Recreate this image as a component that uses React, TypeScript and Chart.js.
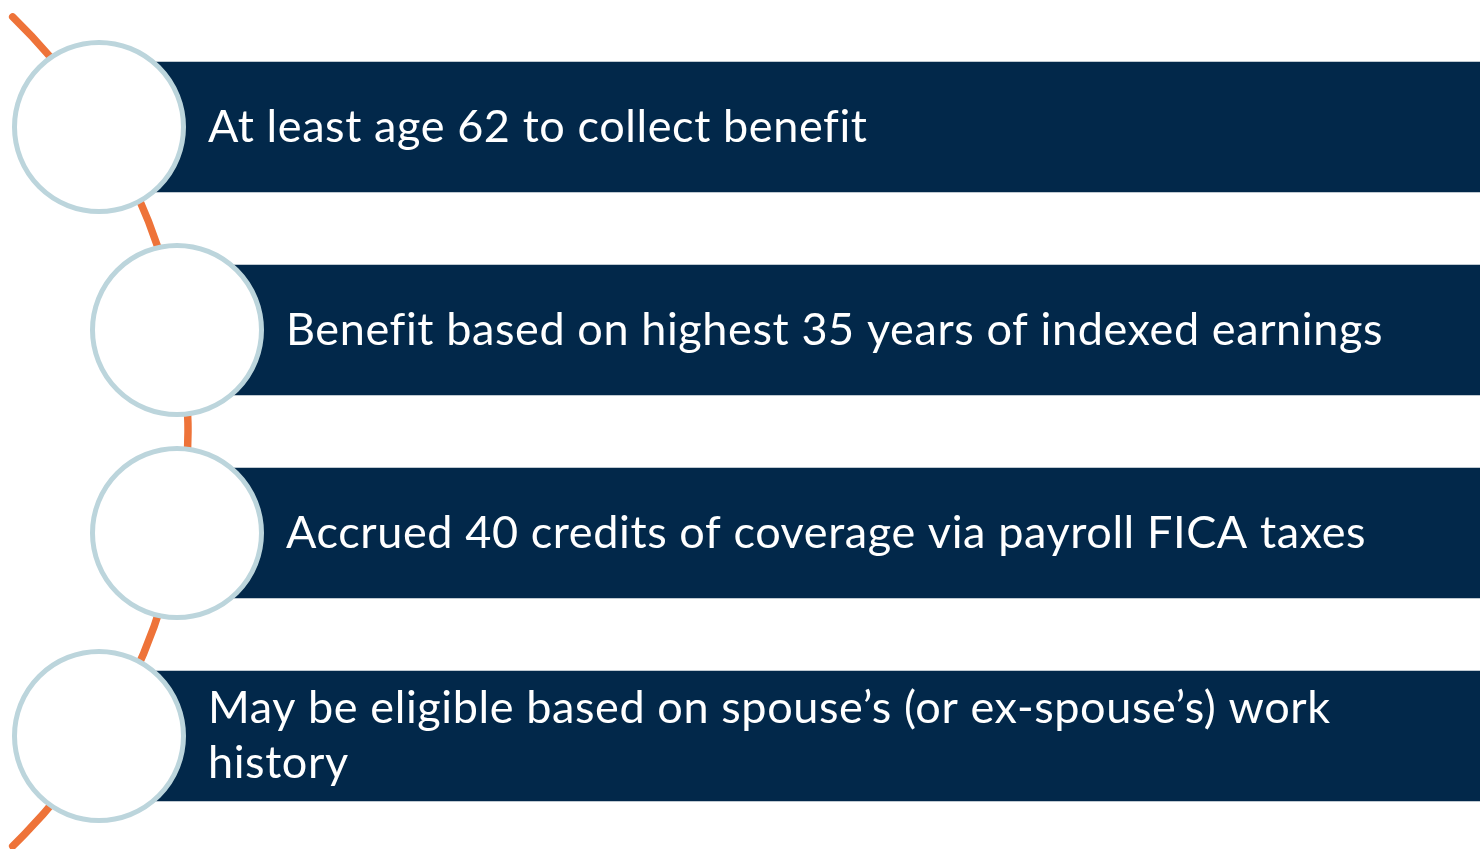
import React, { useEffect, useRef } from "react";
import { Chart, registerables } from "chart.js";

Chart.register(...registerables);

// Diagram data (chart coordinates: x 0..1480, y 0..849 top-down)
const itemLines: string[][] = [
  ["At least age 62 to collect benefit"],
  ["Benefit based on highest 35 years of indexed earnings"],
  ["Accrued 40 credits of coverage via payroll FICA taxes"],
  ["May be eligible based on spouse\u2019s (or ex-spouse\u2019s) work", "history"],
];
const rowY = [127, 330, 533, 736];
const barStart = [155, 233, 233, 155];
const barEnd = [1480, 1480, 1480, 1480];
const circleX = [99, 177, 177, 99];
const arcCenter = [-390, 431.5];
const arcRadius = 578;
const arcAngle = 0.8;

const W = 1480;
const H = 849;
const NAVY = "#02284A";
const RING = "#BCD5DC";
const ORANGE = "#EE7339";
const FONT = "Lato";
const FONT_SIZE = 45;
const LINE_H = 55;

export default function App() {
  const ref = useRef<HTMLCanvasElement | null>(null);

  useEffect(() => {
    document.body.style.margin = "0";
    const canvas = ref.current;
    if (!canvas) return;

    const arcPlugin = {
      id: "arcLine",
      beforeDatasetsDraw(chart: any) {
        const { ctx, scales } = chart;
        const cx = scales.x.getPixelForValue(arcCenter[0]);
        const cy = scales.y.getPixelForValue(arcCenter[1]);
        const r = scales.x.getPixelForValue(arcRadius) - scales.x.getPixelForValue(0);
        ctx.save();
        ctx.strokeStyle = ORANGE;
        ctx.lineWidth = 7.5;
        ctx.lineCap = "round";
        ctx.beginPath();
        ctx.arc(cx, cy, r, -arcAngle, arcAngle);
        ctx.stroke();
        ctx.restore();
      },
    };

    const textPlugin = {
      id: "itemText",
      afterDatasetsDraw(chart: any) {
        const { ctx, scales } = chart;
        ctx.save();
        ctx.fillStyle = "#FFFFFF";
        ctx.font = `${FONT_SIZE}px ${FONT}`;
        try { (ctx as any).letterSpacing = "0.6px"; } catch (e) {}
        ctx.textBaseline = "middle";
        ctx.textAlign = "left";
        itemLines.forEach((lines, i) => {
          const x = scales.x.getPixelForValue(circleX[i]) + 109;
          const yc = scales.y.getPixelForValue(rowY[i]);
          const n = lines.length;
          lines.forEach((t, j) => {
            const y = yc + (j - (n - 1) / 2) * LINE_H;
            ctx.fillText(t, x, y);
          });
        });
        ctx.restore();
      },
    };

    const chart = new Chart(canvas, {
      type: "bar",
      data: {
        datasets: [
          {
            type: "scatter",
            label: "circles",
            data: rowY.map((y, i) => ({ x: circleX[i], y })),
            pointRadius: 84.5,
            pointHoverRadius: 84.5,
            pointBorderWidth: 5,
            pointBackgroundColor: "#FFFFFF",
            pointBorderColor: RING,
            showLine: false,
            order: 0,
            clip: false,
          } as any,
          {
            type: "bar",
            label: "items",
            indexAxis: "y",
            data: rowY.map((y, i) => ({ x: [barStart[i], barEnd[i]], y })),
            backgroundColor: NAVY,
            borderWidth: 0,
            barThickness: 130,
            order: 1,
          } as any,
        ],
      },
      options: {
        responsive: false,
        animation: false,
        events: [],
        layout: { padding: 0, autoPadding: false } as any,
        plugins: { legend: { display: false }, tooltip: { enabled: false } },
        scales: {
          x: { type: "linear", min: 0, max: W, display: false, offset: false },
          y: { type: "linear", min: 0, max: H, reverse: true, display: false, offset: false },
        },
      },
      plugins: [arcPlugin, textPlugin],
    });
    return () => chart.destroy();
  }, []);

  return <canvas ref={ref} width={W} height={H} style={{ display: "block" }} />;
}
